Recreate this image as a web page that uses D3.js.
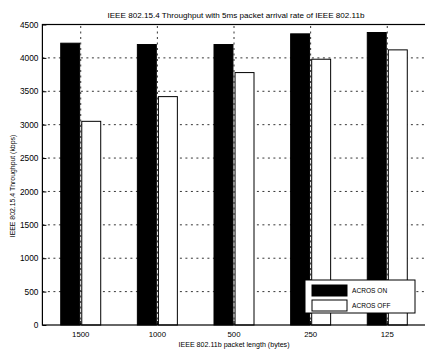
<!DOCTYPE html>
<html>
<head>
<meta charset="utf-8">
<script src="https://cdn.jsdelivr.net/npm/d3@7"></script>
<style>
	body { margin: 0; background: #fff; }
	text { font-family: "Liberation Sans", Arial, sans-serif; fill: #000; }
</style>
</head>
<body>
<div id="chart"></div>
<script>

// data
const packetLengths = ["1500", "1000", "500", "250", "125"];
const acrosOn = [4220, 4200, 4200, 4360, 4380];
const acrosOff = [3050, 3420, 3780, 3980, 4120];
const yTicks = [0, 500, 1000, 1500, 2000, 2500, 3000, 3500, 4000, 4500];
const seriesNames = ["ACROS ON", "ACROS OFF"];
const seriesFill = ["#000", "#fff"];

function chart(){

	const width = 425;
	const height = 350;
	const margin = {top: 24.5, right: -0.6, bottom: 25, left: 42.4};

	let svg = d3.select("#chart")
		.append("svg")
		.attr("width", width)
		.attr("height", height);

	let x0 = d3.scaleBand()
		.domain(packetLengths)
		.range([margin.left, width - margin.right]);

	let bw = x0.bandwidth();

	//two bars per group, centred on the tick
	let x1 = d3.scaleBand()
		.domain(seriesNames)
		.range([bw/2 - 20, bw/2 + 20])
		.paddingInner(0.1);

	let y = d3.scaleLinear()
		.domain([0, 4500])
		.range([height - margin.bottom, margin.top]);

	let rows = packetLengths.map((p, i)=>{
		return {cat: p, values: [acrosOn[i], acrosOff[i]]};
	});

	//grid (dotted, behind the bars)
	let grid = svg.append("g")
		.attr("stroke", "#000")
		.attr("stroke-width", 0.8)
		.attr("stroke-dasharray", "2,3.5");

	grid.selectAll(".hgrid")
		.data(yTicks.slice(1))
		.enter().append("line")
		.attr("x1", margin.left)
		.attr("x2", width)
		.attr("y1", (d)=>y(d))
		.attr("y2", (d)=>y(d));

	grid.selectAll(".vgrid")
		.data(packetLengths)
		.enter().append("line")
		.attr("x1", (d)=>x0(d) + bw/2)
		.attr("x2", (d)=>x0(d) + bw/2)
		.attr("y1", y(0))
		.attr("y2", y(4500));

	//bars
	let groups = svg.selectAll(".grp")
		.data(rows)
		.enter().append("g")
		.attr("transform", (d)=>"translate(" + x0(d.cat) + ",0)");

	groups.selectAll("rect")
		.data((d)=>d.values.map((v, j)=>({name: seriesNames[j], value: v, j: j})))
		.enter().append("rect")
		.attr("x", (d)=>x1(d.name))
		.attr("width", x1.bandwidth())
		.attr("y", (d)=>y(d.value))
		.attr("height", (d)=>y(0) - y(d.value))
		.attr("fill", (d)=>seriesFill[d.j])
		.attr("stroke", "#000")
		.attr("stroke-width", 1);

	//axes box
	svg.append("rect")
		.attr("x", margin.left)
		.attr("y", margin.top)
		.attr("width", width - margin.right - margin.left)
		.attr("height", y(0) - margin.top)
		.attr("fill", "none")
		.attr("stroke", "#000")
		.attr("stroke-width", 1.2);

	//y axis, ticks inside
	let yAxis = svg.append("g")
		.attr("transform", "translate(" + margin.left + ",0)")
		.call(d3.axisLeft(y).tickValues(yTicks).tickFormat(d3.format("d"))
			.tickSizeInner(-4).tickSizeOuter(0).tickPadding(4));
	yAxis.select(".domain").remove();
	yAxis.selectAll("text")
		.attr("font-size", "8.3px")
		.attr("font-family", "Liberation Sans, Arial, sans-serif");

	//x axis, ticks inside
	let xAxis = svg.append("g")
		.attr("transform", "translate(0," + y(0) + ")")
		.call(d3.axisBottom(x0).tickSizeInner(-4).tickSizeOuter(0).tickPadding(6));
	xAxis.select(".domain").remove();
	xAxis.selectAll("text")
		.attr("font-size", "7.8px")
		.attr("font-family", "Liberation Sans, Arial, sans-serif");

	//title and labels
	svg.append("text")
		.attr("x", 236)
		.attr("y", 18)
		.attr("text-anchor", "middle")
		.attr("font-size", "8.1px")
		.text("IEEE 802.15.4 Throughput with 5ms packet arrival rate of IEEE 802.11b");

	svg.append("text")
		.attr("x", 234)
		.attr("y", 347)
		.attr("text-anchor", "middle")
		.attr("font-size", "7.1px")
		.text("IEEE 802.11b packet length (bytes)");

	svg.append("text")
		.attr("transform", "translate(15,186) rotate(-90)")
		.attr("text-anchor", "middle")
		.attr("font-size", "6.9px")
		.text("IEEE 802.15.4 Throughput (kbps)");

	//legend
	let legend = svg.append("g")
		.attr("transform", "translate(305,280)");

	legend.append("rect")
		.attr("width", 110)
		.attr("height", 33)
		.attr("fill", "#fff")
		.attr("stroke", "#000")
		.attr("stroke-width", 1);

	let item = legend.selectAll(".item")
		.data(seriesNames)
		.enter().append("g")
		.attr("transform", (d, i)=>"translate(7," + (5 + i*15) + ")");

	item.append("rect")
		.attr("width", 35)
		.attr("height", 11)
		.attr("fill", (d, i)=>seriesFill[i])
		.attr("stroke", "#000")
		.attr("stroke-width", 1);

	item.append("text")
		.attr("x", 40)
		.attr("y", 8)
		.attr("font-size", "6.6px")
		.text((d)=>d);

}

chart();
</script>
</body>
</html>
